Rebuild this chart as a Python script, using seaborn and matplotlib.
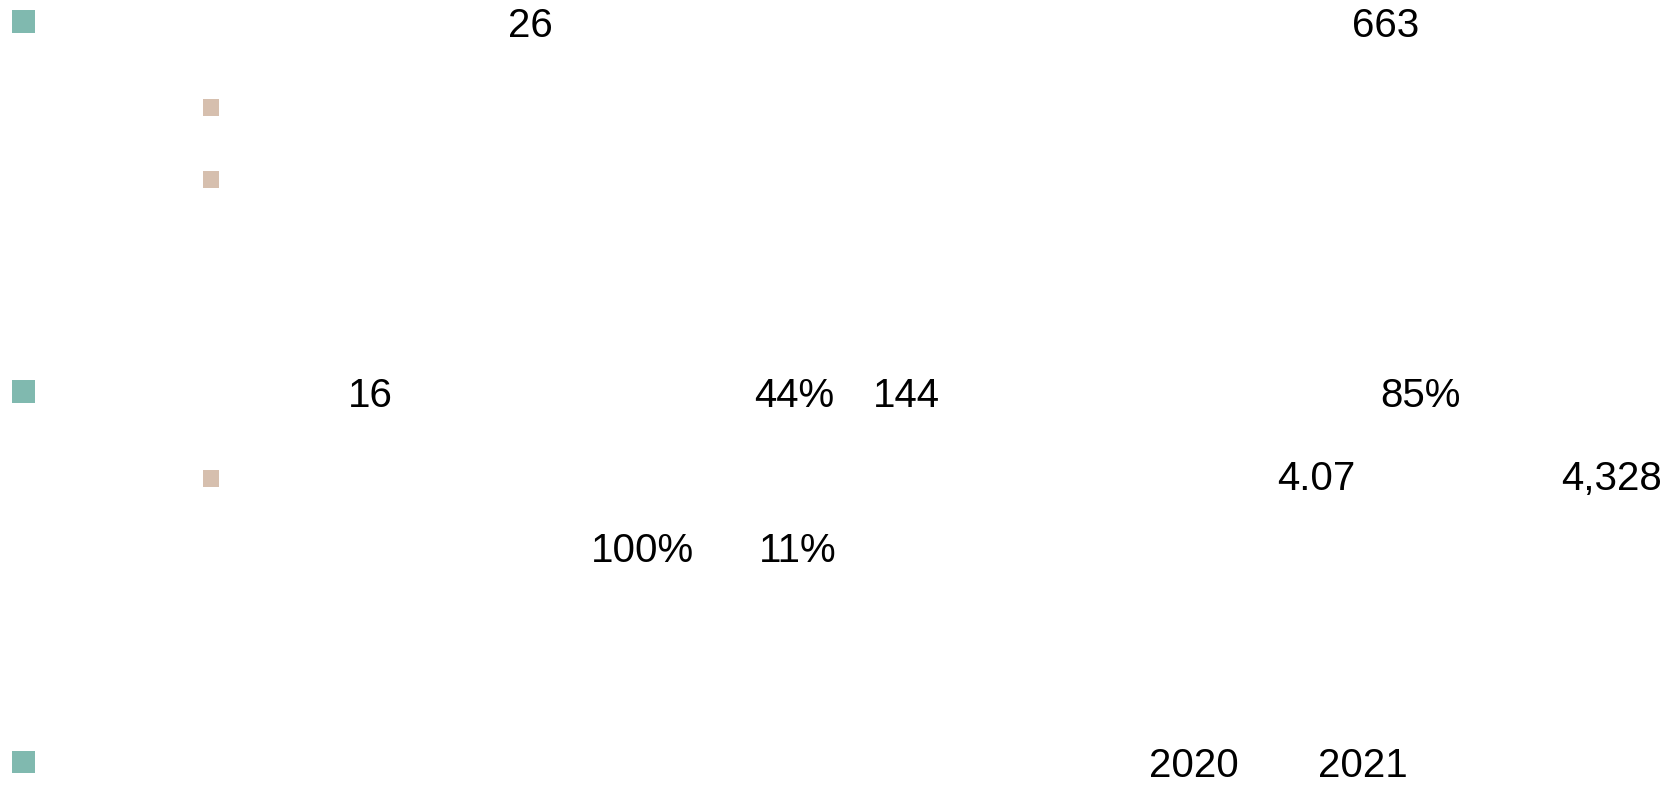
import pandas as pd
import matplotlib
matplotlib.use("Agg")
import matplotlib.pyplot as plt
import seaborn as sns

sns.set_theme(style="white")
plt.rcParams["font.family"] = ["Liberation Sans", "Noto Sans CJK SC", "DejaVu Sans"]

# ----------------------------------------------------------
# data: bullet levels and the figures visible on the slide
bullet_level = ["main", "sub", "sub", "main", "sub", "main"]
number_labels = ["26", "663",
                 "16", "44%", "144", "85%",
                 "4.07", "4,328",
                 "100%", "11%",
                 "2020", "2021"]

# layout (pixel canvas, 1680 x 786)
bullet_x = {"main": 23.5, "sub": 211}
bullet_y = [21.5, 107.5, 179.5, 391.5, 478.5, 762]
label_x = [508, 1352, 348, 754, 873, 1380, 1277, 1561, 591, 759, 1149, 1318]
label_y = [37, 37, 407, 407, 407, 407, 490, 490, 562, 562, 777, 777]

bullets = pd.DataFrame({
    "level": bullet_level,
    "x": [bullet_x[l] for l in bullet_level],
    "y": bullet_y,
})

palette = {"main": "#80B9AF", "sub": "#D6BFAE"}
sizes = {"main": 274, "sub": 133}

# ----------------------------------------------------------
fig = plt.figure(figsize=(16.8, 7.86), dpi=100)
ax = fig.add_axes([0, 0, 1, 1])
ax.set_xlim(0, 1680)
ax.set_ylim(786, 0)
ax.axis("off")

sns.scatterplot(data=bullets, x="x", y="y", hue="level", size="level",
                palette=palette, sizes=sizes, marker="s", linewidth=0,
                legend=False, ax=ax)

for txt, x, y in zip(number_labels, label_x, label_y):
    ax.text(x, y, txt, fontsize=29, color="black", ha="left", va="baseline")

fig.savefig("out.png", dpi=100, facecolor="white")
